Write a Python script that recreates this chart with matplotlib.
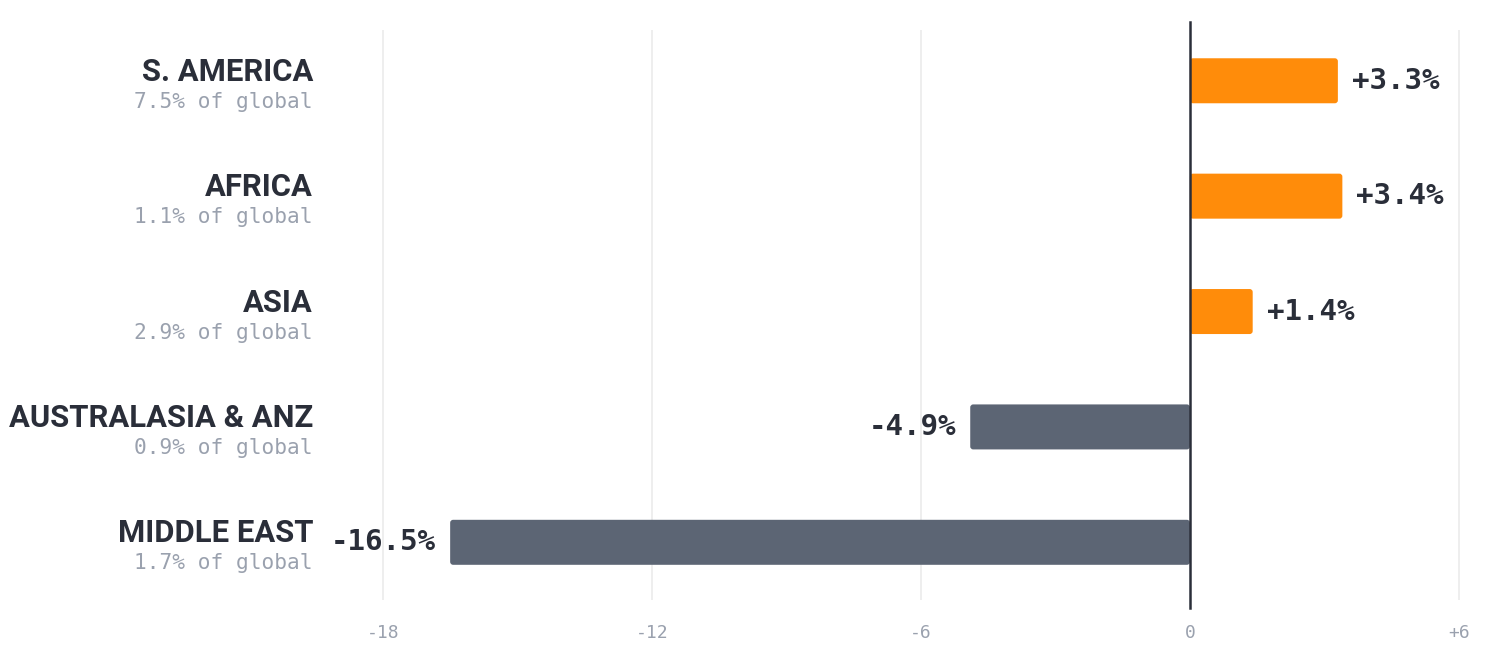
import matplotlib
matplotlib.use("Agg")
import matplotlib.pyplot as plt
from matplotlib.patches import FancyBboxPatch

regions = ["S. AMERICA", "AFRICA", "ASIA", "AUSTRALASIA & ANZ", "MIDDLE EAST"]
shares = ["7.5% of global", "1.1% of global", "2.9% of global", "0.9% of global", "1.7% of global"]
changes = [3.3, 3.4, 1.4, -4.9, -16.5]
tick_values = [-18, -12, -6, 0, 6]
tick_labels = ["-18", "-12", "-6", "0", "+6"]

ORANGE = "#ff8c0a"
SLATE = "#5c6574"
DARK = "#2a2e39"
GREY = "#9aa1ae"
GRID = "#ebebeb"

W, H = 1508, 658
fig = plt.figure(figsize=(W / 100, H / 100), dpi=100)
L, R, T, B = 330, 1480, 30, 600
ax = fig.add_axes([L / W, 1 - B / H, (R - L) / W, (B - T) / H])

xmin, xmax = -19.18, 6.47
ax.set_xlim(xmin, xmax)
ax.set_ylim(4.5, -0.44)

for s in ax.spines.values():
    s.set_visible(False)

ax.set_xticks(tick_values)
ax.set_xticklabels(tick_labels, family="DejaVu Sans Mono", fontsize=13, color=GREY)
ax.tick_params(axis="x", length=0, pad=17)
ax.set_yticks([])
for v in tick_values:
    if v != 0:
        ax.axvline(v, color=GRID, lw=1.2, zorder=0)
ax.axvline(0, ymin=-8 / 570, ymax=1 + 8 / 570, color=DARK, lw=1.8, zorder=3, clip_on=False)

bar_h = 0.39
bars = ax.barh(range(len(regions)), changes, height=bar_h, color="none")
px_x = (R - L) / (xmax - xmin)
px_y = (B - T) / 4.94
r_px = 3
for i, (rect, v) in enumerate(zip(bars.patches, changes)):
    x0, y0 = rect.get_x(), rect.get_y()
    w, h = rect.get_width(), rect.get_height()
    if w < 0:
        x0, w = x0 + w, -w
    col = ORANGE if v >= 0 else SLATE
    p = FancyBboxPatch((x0, y0), w, h,
                       boxstyle=f"round,pad=0,rounding_size={r_px / px_x}",
                       mutation_aspect=px_x / px_y,
                       facecolor=col, edgecolor="none", zorder=2)
    ax.add_patch(p)
    rect.set_visible(False)
    off = 14 / px_x
    label = f"{v:+.1f}%"
    if v >= 0:
        ax.text(v + off, i, label, ha="left", va="center", family="DejaVu Sans Mono",
                fontweight="bold", fontsize=21, color=DARK)
    else:
        ax.text(v - off, i, label, ha="right", va="center", family="DejaVu Sans Mono",
                fontweight="bold", fontsize=21, color=DARK)

for i, (name, sh) in enumerate(zip(regions, shares)):
    ax.annotate(name, xy=(0, i), xycoords=("axes fraction", "data"),
                xytext=(-17, 0), textcoords="offset pixels",
                ha="right", va="baseline", family=["Roboto", "DejaVu Sans"],
                fontweight="bold", fontsize=22.3, color=DARK)
    ax.annotate(sh, xy=(0, i), xycoords=("axes fraction", "data"),
                xytext=(-17, -11), textcoords="offset pixels",
                ha="right", va="top", family="DejaVu Sans Mono",
                fontsize=15.2, color=GREY)

fig.savefig("out.png", dpi=100, facecolor="white")
